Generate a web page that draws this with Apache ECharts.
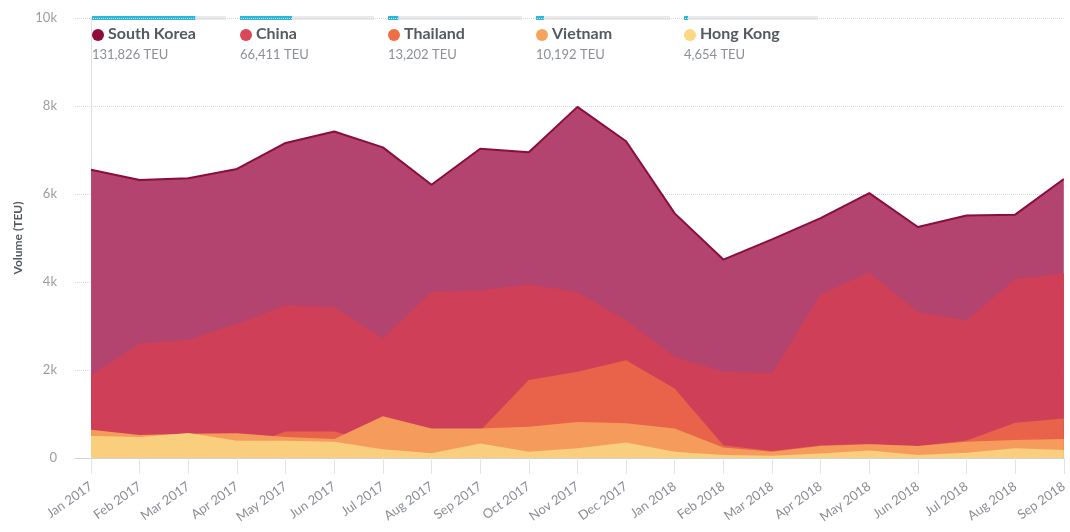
<!DOCTYPE html>
<html>
<head>
<meta charset="utf-8">
<script src="https://cdn.jsdelivr.net/npm/echarts@6/dist/echarts.min.js"></script>
<style>
  html, body { margin: 0; padding: 0; background: #fff; }
  #chart { width: 1070px; height: 532px; }
</style>
</head>
<body>
<div id="chart"></div>
<script>
// months on the x axis
var months = ['Jan 2017', 'Feb 2017', 'Mar 2017', 'Apr 2017', 'May 2017', 'Jun 2017', 'Jul 2017',
  'Aug 2017', 'Sep 2017', 'Oct 2017', 'Nov 2017', 'Dec 2017', 'Jan 2018', 'Feb 2018', 'Mar 2018',
  'Apr 2018', 'May 2018', 'Jun 2018', 'Jul 2018', 'Aug 2018', 'Sep 2018'];

// volumes in TEU (overlapping areas, not stacked)
var southKorea = [6550, 6320, 6360, 6570, 7160, 7420, 7060, 6210, 7030, 6950, 7980, 7200, 5560, 4510, 4970, 5450, 6020, 5250, 5510, 5530, 6340];
var china      = [1880, 2600, 2690, 3050, 3470, 3430, 2720, 3770, 3810, 3950, 3770, 3130, 2300, 1960, 1930, 3720, 4220, 3320, 3130, 4070, 4200];
var thailand   = [150, 120, 150, 200, 600, 600, 300, 200, 620, 1770, 1960, 2220, 1580, 290, 160, 290, 320, 270, 400, 800, 900];
var vietnam    = [640, 520, 550, 560, 480, 430, 950, 670, 670, 710, 820, 790, 670, 240, 140, 270, 310, 270, 370, 410, 430];
var hongKong   = [500, 480, 570, 390, 390, 370, 200, 110, 330, 140, 220, 350, 140, 70, 50, 100, 170, 70, 120, 220, 180];

// legend
var countries = ['South Korea', 'China', 'Thailand', 'Vietnam', 'Hong Kong'];
var totals = [131826, 66411, 13202, 10192, 4654];
var dotColors = ['#8e0b3a', '#d9475a', '#ef6e46', '#f5a45e', '#fcd784'];
var areaColors = ['#b3446f', '#cf3f58', '#e8634a', '#f59c5c', '#f9cf7d'];
var allSeries = [southKorea, china, thailand, vietnam, hongKong];

var chart = echarts.init(document.getElementById('chart'));

// legend blocks drawn as graphics
var legendItems = [];
var barW = 134;
countries.forEach(function (name, i) {
  var x0 = 92 + i * 148;
  legendItems.push({
    type: 'rect', left: x0, top: 16,
    shape: { width: barW, height: 4 },
    style: { fill: '#e8eaec' }
  });
  legendItems.push({
    type: 'rect', left: x0, top: 16,
    shape: { width: Math.max(4, totals[i] / 171000 * barW), height: 4 },
    style: { fill: '#2bb6dc' }
  });
  legendItems.push({
    type: 'circle', left: x0, top: 29,
    shape: { r: 6 },
    style: { fill: dotColors[i] }
  });
  legendItems.push({
    type: 'text', left: x0 + 16, top: 26,
    style: { text: name, fill: '#555a60', font: 'bold 16px Lato' }
  });
  legendItems.push({
    type: 'text', left: x0, top: 48,
    style: { text: totals[i].toLocaleString('en-US') + ' TEU', fill: '#8c9096', font: '13px Lato' }
  });
});

var series = allSeries.map(function (vals, i) {
  return {
    name: countries[i],
    type: 'line',
    symbol: 'none',
    data: vals.map(function (v, k) { return [k, v]; }),
    lineStyle: i === 0 ? { width: 2, color: '#8a0d3c' } : { width: 0 },
    itemStyle: { color: areaColors[i] },
    areaStyle: { color: areaColors[i], opacity: 1 },
    z: 2 + i
  };
});

var idx = months.map(function (m, k) { return k; });

chart.setOption({
  animation: false,
  textStyle: { fontFamily: 'Lato' },
  grid: { left: 75, right: 4, top: 18, bottom: 74 },
  graphic: legendItems,
  xAxis: {
    type: 'value',
    min: -0.33,
    max: 20,
    axisLine: { show: true, lineStyle: { color: '#cfd3d8' } },
    axisTick: { show: true, customValues: idx, length: 16, lineStyle: { color: '#dfe4ee' } },
    axisLabel: {
      customValues: idx,
      rotate: 35,
      margin: 27,
      color: '#8a8e94',
      fontSize: 13,
      formatter: function (v) { return months[Math.round(v)]; }
    },
    splitLine: { show: false }
  },
  yAxis: {
    type: 'value',
    min: 0,
    max: 10000,
    interval: 2000,
    name: 'Volume (TEU)',
    nameLocation: 'middle',
    nameGap: 50,
    nameTextStyle: { color: '#555a60', fontSize: 12, fontWeight: 'bold' },
    axisLine: { show: true, lineStyle: { color: '#dde0e4' } },
    axisTick: { show: false },
    axisLabel: {
      margin: 18,
      color: '#9a9ea4',
      fontSize: 13,
      formatter: function (v) { return v === 0 ? '0' : (v / 1000) + 'k'; }
    },
    splitLine: { show: true, lineStyle: { type: 'dotted', color: '#d6d8dc' } }
  },
  series: series
});
</script>
</body>
</html>
